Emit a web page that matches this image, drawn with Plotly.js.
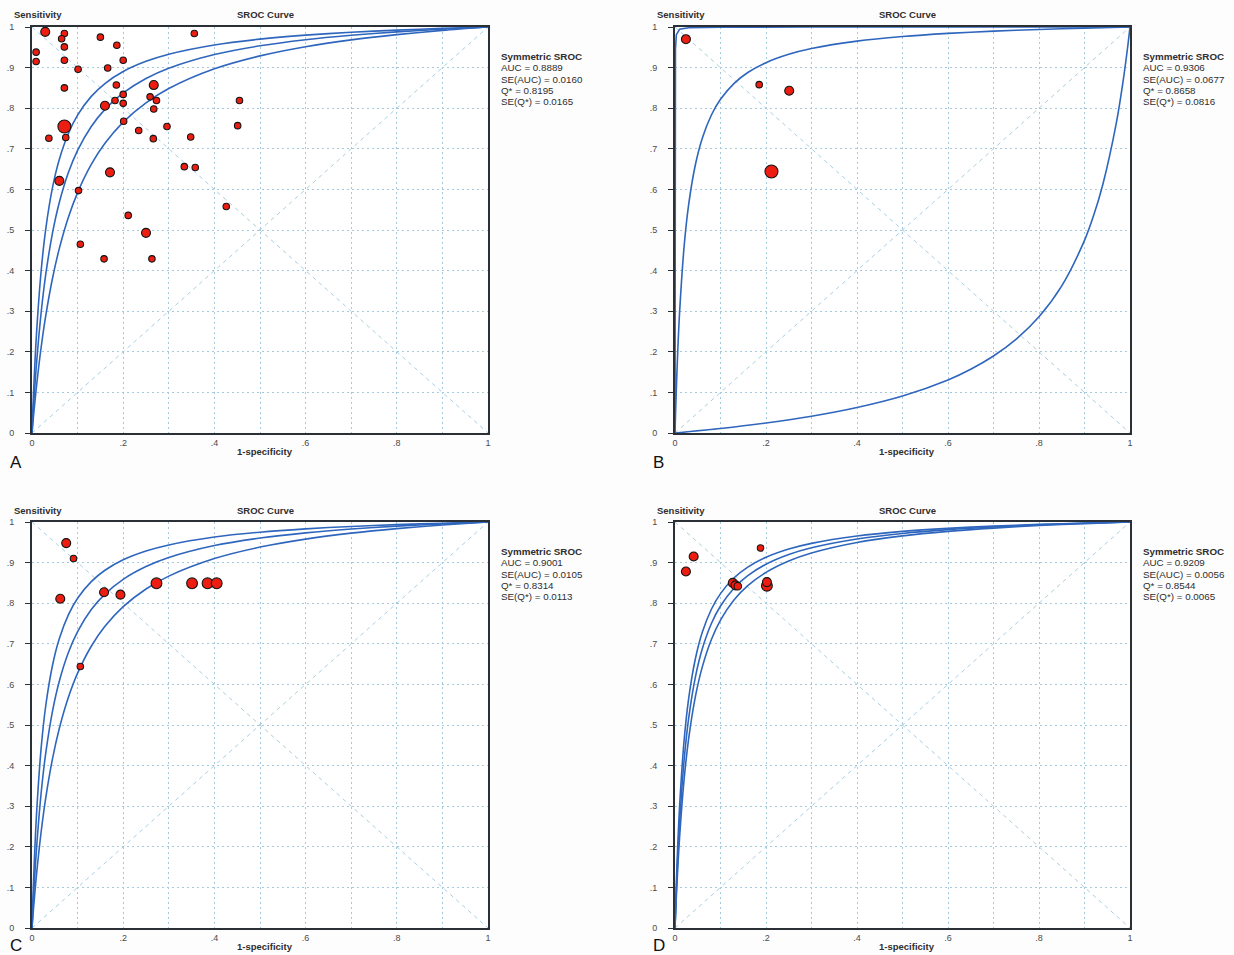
<!DOCTYPE html>
<html>
<head>
<meta charset="utf-8">
<script src="https://cdn.plot.ly/plotly-3.0.1.min.js"></script>
<style>
  html, body { margin: 0; padding: 0; background: #fdfdfe; }
  #chart { width: 1234px; height: 955px; }
</style>
</head>
<body>
<div id="chart"></div>
<script>
// ---------------- DATA ----------------
// Common 1-specificity grid for the SROC curves (A, C, D and B's fitted curve)
const fprGrid = [0, 0.001, 0.003, 0.006, 0.01, 0.02, 0.03, 0.045, 0.06, 0.08, 0.1, 0.13, 0.16, 0.2, 0.25, 0.3, 0.4, 0.5, 0.6, 0.7, 0.8, 0.9, 1];

// Panel A curves (sensitivity at fprGrid)
const curveA_upper = [0, 0.0315, 0.0890, 0.1638, 0.2470, 0.3985, 0.5010, 0.6048, 0.6745, 0.7384, 0.7830, 0.8291, 0.8608, 0.8903, 0.9154, 0.9330, 0.9558, 0.9701, 0.9799, 0.9870, 0.9924, 0.9966, 1];
const curveA_mid   = [0, 0.0202, 0.0584, 0.1107, 0.1724, 0.2961, 0.3894, 0.4928, 0.5682, 0.6420, 0.6961, 0.7549, 0.7971, 0.8375, 0.8730, 0.8983, 0.9321, 0.9537, 0.9687, 0.9796, 0.9880, 0.9946, 1];
const curveA_lower = [0, 0.0129, 0.0378, 0.0731, 0.1166, 0.2106, 0.2879, 0.3812, 0.4548, 0.5320, 0.5922, 0.6614, 0.7135, 0.7657, 0.8133, 0.8485, 0.8970, 0.9289, 0.9515, 0.9683, 0.9812, 0.9916, 1];

// Panel B curves
const curveB_mid   = [0, 0.0399, 0.1112, 0.2005, 0.2957, 0.4589, 0.5625, 0.6620, 0.7262, 0.7833, 0.8220, 0.8613, 0.8879, 0.9122, 0.9327, 0.9469, 0.9652, 0.9765, 0.9842, 0.9898, 0.9940, 0.9973, 1];
const fprB_upper   = [0, 0.00003, 0.0001, 0.0003, 0.001, 0.003, 0.01, 0.03, 0.1, 0.3, 1];
const curveB_upper = [0, 0.342, 0.634, 0.839, 0.9455, 0.9812, 0.9943, 0.9981, 0.9995, 0.9999, 1];
const fprB_lower   = [0, 0.1, 0.2, 0.3, 0.4, 0.5, 0.6, 0.65, 0.7, 0.75, 0.8, 0.85, 0.9, 0.92, 0.94, 0.97, 0.985, 0.995, 0.999, 1];
const curveB_lower = [0, 0.011, 0.0245, 0.0412, 0.0627, 0.0911, 0.1307, 0.157, 0.1896, 0.2312, 0.2862, 0.3623, 0.4744, 0.5355, 0.611, 0.764, 0.868, 0.952, 0.990, 1];

// Panel C curves
const curveC_upper = [0, 0.0375, 0.1048, 0.1902, 0.2822, 0.4427, 0.5462, 0.6471, 0.7129, 0.7719, 0.8122, 0.8532, 0.8811, 0.9068, 0.9284, 0.9434, 0.9629, 0.9749, 0.9831, 0.9891, 0.9936, 0.9971, 1];
const curveC_mid   = [0, 0.0238, 0.0682, 0.1280, 0.1973, 0.3318, 0.4294, 0.5342, 0.6083, 0.6790, 0.7300, 0.7843, 0.8225, 0.8588, 0.8902, 0.9125, 0.9419, 0.9605, 0.9733, 0.9827, 0.9898, 0.9954, 1];
const curveC_lower = [0, 0.0150, 0.0437, 0.0839, 0.1329, 0.2365, 0.3194, 0.4170, 0.4919, 0.5688, 0.6277, 0.6940, 0.7430, 0.7914, 0.8349, 0.8667, 0.9100, 0.9382, 0.9579, 0.9725, 0.9838, 0.9927, 1];

// Panel D curves
const curveD_upper = [0, 0.0404, 0.1122, 0.2023, 0.2980, 0.4617, 0.5651, 0.6645, 0.7284, 0.7851, 0.8236, 0.8626, 0.8889, 0.9131, 0.9334, 0.9474, 0.9655, 0.9768, 0.9844, 0.9899, 0.9941, 0.9974, 1];
const curveD_mid   = [0, 0.0334, 0.0940, 0.1723, 0.2583, 0.4131, 0.5161, 0.6190, 0.6876, 0.7499, 0.7930, 0.8375, 0.8678, 0.8961, 0.9200, 0.9366, 0.9583, 0.9718, 0.9811, 0.9877, 0.9928, 0.9968, 1];
const curveD_lower = [0, 0.0275, 0.0784, 0.1456, 0.2220, 0.3657, 0.4662, 0.5710, 0.6432, 0.7107, 0.7584, 0.8085, 0.8432, 0.8760, 0.9040, 0.9237, 0.9496, 0.9658, 0.9769, 0.9850, 0.9912, 0.9961, 1];

// Study points (1-specificity, sensitivity, relative weight)
const fprA  = [0.029, 0.071, 0.065, 0.071, 0.071, 0.009, 0.009, 0.101, 0.071, 0.071, 0.074, 0.037, 0.060, 0.102, 0.106, 0.158, 0.171, 0.150, 0.186, 0.200, 0.166, 0.185, 0.200, 0.200, 0.182, 0.160, 0.201, 0.211, 0.234, 0.250, 0.263, 0.267, 0.259, 0.273, 0.267, 0.266, 0.296, 0.348, 0.334, 0.358, 0.356, 0.455, 0.451, 0.426];
const sensA = [0.988, 0.984, 0.971, 0.951, 0.918, 0.938, 0.915, 0.896, 0.850, 0.755, 0.728, 0.726, 0.621, 0.597, 0.465, 0.429, 0.642, 0.975, 0.955, 0.918, 0.899, 0.857, 0.834, 0.812, 0.819, 0.806, 0.768, 0.536, 0.745, 0.493, 0.429, 0.857, 0.828, 0.819, 0.798, 0.725, 0.755, 0.729, 0.656, 0.654, 0.984, 0.819, 0.757, 0.558];
const wA    = [2, 1, 1, 1, 1, 1, 1, 1, 1, 3, 1, 1, 2, 1, 1, 1, 2, 1, 1, 1, 1, 1, 1, 1, 1, 2, 1, 1, 1, 2, 1, 2, 1, 1, 1, 1, 1, 1, 1, 1, 1, 1, 1, 1];

const fprB  = [0.024, 0.185, 0.251, 0.212];
const sensB = [0.970, 0.858, 0.843, 0.644];
const wB    = [2, 1, 2, 3];

const fprC  = [0.075, 0.091, 0.062, 0.106, 0.158, 0.194, 0.273, 0.351, 0.385, 0.405];
const sensC = [0.948, 0.910, 0.811, 0.644, 0.827, 0.821, 0.849, 0.849, 0.849, 0.849];
const wC    = [2, 1, 2, 1, 2, 2, 2.5, 2.5, 2.5, 2.5];

const fprD  = [0.024, 0.041, 0.188, 0.127, 0.133, 0.138, 0.202, 0.202];
const sensD = [0.878, 0.915, 0.936, 0.850, 0.844, 0.842, 0.843, 0.852];
const wD    = [2, 2, 1, 2, 2, 1.5, 2.5, 2];

// Stats text
const statsA = ["AUC = 0.8889", "SE(AUC) = 0.0160", "Q* = 0.8195", "SE(Q*) = 0.0165"];
const statsB = ["AUC = 0.9306", "SE(AUC) = 0.0677", "Q* = 0.8658", "SE(Q*) = 0.0816"];
const statsC = ["AUC = 0.9001", "SE(AUC) = 0.0105", "Q* = 0.8314", "SE(Q*) = 0.0113"];
const statsD = ["AUC = 0.9209", "SE(AUC) = 0.0056", "Q* = 0.8544", "SE(Q*) = 0.0065"];
const panelLetters = ["A", "B", "C", "D"];

const gridVals = [0, 0.1, 0.2, 0.3, 0.4, 0.5, 0.6, 0.7, 0.8, 0.9, 1];
const xTickText = ["0", "", ".2", "", ".4", "", ".6", "", ".8", "", "1"];
const yTickText = ["0", ".1", ".2", ".3", ".4", ".5", ".6", ".7", ".8", ".9", "1"];

// ---------------- DRAWING ----------------
const W = 1234, H = 955;
const px = v => v / W;
const py = v => 1 - v / H;

const CURVE_COLOR = '#2f66bd';
const FONT = 'Arial, "Liberation Sans", sans-serif';
const TXT = '#2e2e2e';

function curve(xs, ys, ax, shape) {
  return { type: 'scatter', mode: 'lines', x: xs, y: ys, xaxis: 'x' + ax, yaxis: 'y' + ax,
    line: { color: CURVE_COLOR, width: 1.6, shape: shape || 'spline', smoothing: 0.8 }, hoverinfo: 'skip', showlegend: false };
}
function markerSize(w) { return 5.5 + 0.25 * w + 0.75 * w * w; }
function pts(xs, ys, ws, ax) {
  return { type: 'scatter', mode: 'markers', x: xs, y: ys, xaxis: 'x' + ax, yaxis: 'y' + ax,
    cliponaxis: false,
    marker: { color: '#ee1d12', opacity: 1, size: ws.map(markerSize), line: { color: '#151515', width: 1.1 } },
    showlegend: false };
}

const traces = [
  curve(fprGrid, curveA_upper, ''), curve(fprGrid, curveA_mid, ''), curve(fprGrid, curveA_lower, ''),
  pts(fprA, sensA, wA, ''),
  curve(fprB_upper, curveB_upper, '2', 'linear'), curve(fprGrid, curveB_mid, '2'), curve(fprB_lower, curveB_lower, '2'),
  pts(fprB, sensB, wB, '2'),
  curve(fprGrid, curveC_upper, '3'), curve(fprGrid, curveC_mid, '3'), curve(fprGrid, curveC_lower, '3'),
  pts(fprC, sensC, wC, '3'),
  curve(fprGrid, curveD_upper, '4'), curve(fprGrid, curveD_mid, '4'), curve(fprGrid, curveD_lower, '4'),
  pts(fprD, sensD, wD, '4')
];

// panel geometry in pixels
const panels = [
  { ax: '',  x0: 32,  x1: 488,  y0: 27,  y1: 433, stats: statsA, letter: panelLetters[0], ly: 462 },
  { ax: '2', x0: 675, x1: 1130, y0: 27,  y1: 433, stats: statsB, letter: panelLetters[1], ly: 462 },
  { ax: '3', x0: 32,  x1: 488,  y0: 522, y1: 928, stats: statsC, letter: panelLetters[2], ly: 945 },
  { ax: '4', x0: 675, x1: 1130, y0: 522, y1: 928, stats: statsD, letter: panelLetters[3], ly: 945 }
];

const layout = {
  width: W, height: H,
  margin: { l: 0, r: 0, t: 0, b: 0 },
  paper_bgcolor: '#fdfdfe',
  plot_bgcolor: '#ffffff',
  showlegend: false,
  font: { family: FONT, color: TXT },
  shapes: [],
  annotations: []
};

const axisCommon = {
  range: [0, 1], autorange: false, fixedrange: true,
  showline: true, mirror: true, linecolor: '#2a3035', linewidth: 2,
  showgrid: true, gridcolor: '#a6cadd', gridwidth: 1, griddash: '2px,3px',
  zeroline: false,
  tickmode: 'array', tickvals: gridVals,
  tickfont: { family: FONT, size: 9, color: '#4a4a4a' }
};

panels.forEach(p => {
  const xa = 'xaxis' + p.ax, ya = 'yaxis' + p.ax;
  layout[xa] = Object.assign({}, axisCommon, {
    domain: [px(p.x0), px(p.x1)],
    anchor: 'y' + p.ax,
    ticktext: xTickText, ticks: '', ticklabelstandoff: 0
  });
  layout[ya] = Object.assign({}, axisCommon, {
    domain: [py(p.y1), py(p.y0)],
    anchor: 'x' + p.ax,
    ticktext: yTickText, ticks: 'outside', ticklen: 5, tickcolor: '#2a3035', ticklabelstandoff: 9
  });
  const xr = 'x' + p.ax, yr = 'y' + p.ax;
  // reference diagonals
  layout.shapes.push({ type: 'line', xref: xr, yref: yr, x0: 0, y0: 0, x1: 1, y1: 1, layer: 'below',
    line: { color: '#a9cfe2', width: 1, dash: '4px,4px' } });
  layout.shapes.push({ type: 'line', xref: xr, yref: yr, x0: 0, y0: 1, x1: 1, y1: 0, layer: 'below',
    line: { color: '#a9cfe2', width: 1, dash: '4px,4px' } });

  const cx = (p.x0 + p.x1) / 2 + 5;
  const ann = layout.annotations;
  ann.push({ xref: 'paper', yref: 'paper', x: px(p.x0 - 20), y: py(p.y0 - 12), xanchor: 'left', yanchor: 'middle',
    text: '<b>Sensitivity</b>', showarrow: false, font: { size: 9.5, family: FONT, color: TXT } });
  ann.push({ xref: 'paper', yref: 'paper', x: px(cx), y: py(p.y0 - 12), xanchor: 'center', yanchor: 'middle',
    text: '<b>SROC Curve</b>', showarrow: false, font: { size: 9.5, family: FONT, color: TXT } });
  ann.push({ xref: 'paper', yref: 'paper', x: px(cx), y: py(p.y1 + 18), xanchor: 'center', yanchor: 'middle',
    text: '<b>1-specificity</b>', showarrow: false, font: { size: 9.5, family: FONT, color: TXT } });
  ann.push({ xref: 'paper', yref: 'paper', x: px(p.x0 - 24), y: py(p.ly), xanchor: 'left', yanchor: 'middle',
    text: p.letter, showarrow: false, font: { size: 17, family: FONT, color: '#111' } });
  const tx = p.x1 + 11;
  ann.push({ xref: 'paper', yref: 'paper', x: px(tx), y: py(p.y0 + 29.5), xanchor: 'left', yanchor: 'middle',
    text: '<b>Symmetric SROC</b>', showarrow: false, font: { size: 9.8, family: FONT, color: TXT } });
  p.stats.forEach((s, i) => {
    ann.push({ xref: 'paper', yref: 'paper', x: px(tx), y: py(p.y0 + 40.8 + i * 11.3), xanchor: 'left', yanchor: 'middle',
      text: s, showarrow: false, font: { size: 9.8, family: FONT, color: TXT } });
  });
});

Plotly.newPlot('chart', traces, layout, { staticPlot: true, displayModeBar: false });
</script>
</body>
</html>
